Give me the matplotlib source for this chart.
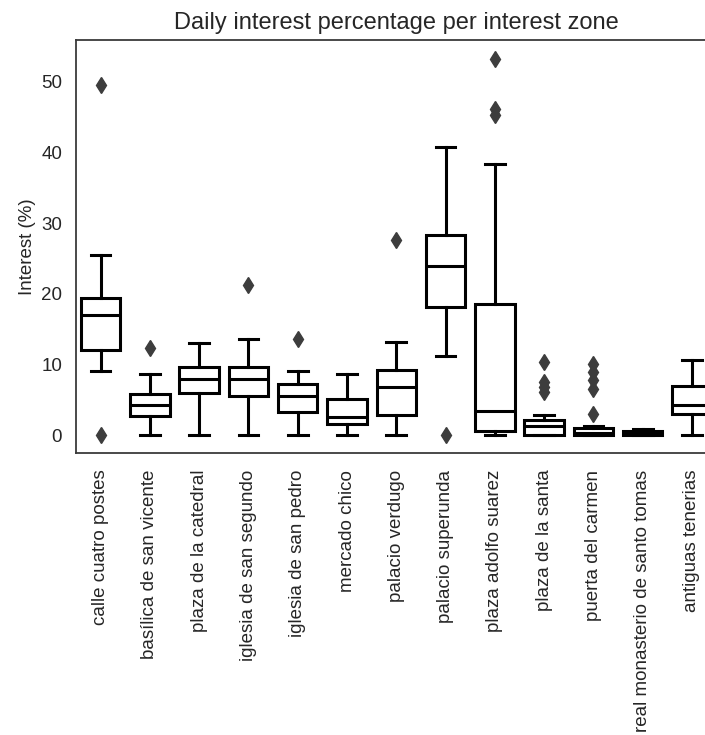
import matplotlib
matplotlib.use("Agg")
import matplotlib.pyplot as plt

plt.rcParams["font.family"] = ["Liberation Sans", "DejaVu Sans"]

zones = [
    "calle cuatro postes",
    "basílica de san vicente",
    "plaza de la catedral",
    "iglesia de san segundo",
    "iglesia de san pedro",
    "mercado chico",
    "palacio verdugo",
    "palacio superunda",
    "plaza adolfo suarez",
    "plaza de la santa",
    "puerta del carmen",
    "real monasterio de santo tomas",
    "antiguas tenerias",
]

# box statistics per zone (interest %)
whislo = [9.1, 0.0, 0.0, 0.0, 0.0, 0.0, 0.0, 11.25, 0.0, 0.0, 0.0, 0.0, 0.0]
q1 = [12.1, 2.75, 5.95, 5.5, 3.3, 1.6, 2.9, 18.2, 0.6, 0.1, 0.0, 0.0, 2.95]
med = [17.0, 4.35, 8.0, 8.0, 5.6, 2.65, 6.9, 24.0, 3.5, 1.3, 0.35, 0.3, 4.35]
q3 = [19.4, 5.85, 9.7, 9.7, 7.2, 5.15, 9.3, 28.3, 18.5, 2.1, 1.1, 0.6, 7.0]
whishi = [25.5, 8.6, 13.0, 13.6, 9.15, 8.6, 13.2, 40.8, 38.4, 2.8, 1.25, 0.85, 10.7]
outliers = [
    [49.6, 0.0],
    [12.4],
    [],
    [21.2],
    [13.6],
    [],
    [27.6],
    [0.0],
    [53.2, 46.1, 45.3],
    [10.4, 7.5, 6.8, 6.1],
    [10.1, 8.9, 7.8, 6.6, 3.0],
    [],
    [],
]

stats = []
for i, name in enumerate(zones):
    stats.append({
        "label": name,
        "whislo": whislo[i],
        "q1": q1[i],
        "med": med[i],
        "q3": q3[i],
        "whishi": whishi[i],
        "fliers": outliers[i],
    })

fig = plt.figure(figsize=(7.05, 7.35), dpi=100)
ax = fig.add_axes([0.1078, 0.3837, 0.9087, 0.5619])

lw = 2.2
ax.bxp(
    stats,
    positions=range(len(zones)),
    widths=0.8,
    patch_artist=True,
    boxprops=dict(facecolor="white", edgecolor="black", linewidth=lw),
    medianprops=dict(color="black", linewidth=lw),
    whiskerprops=dict(color="black", linewidth=lw),
    capprops=dict(color="black", linewidth=lw),
    flierprops=dict(marker="d", markerfacecolor="#3d3d3d", markeredgecolor="#3d3d3d",
                    markersize=8, linestyle="none"),
)

ax.set_xlim(-0.5, len(zones) - 0.5)
ax.set_ylim(-2.5, 55.9)
ax.set_yticks([0, 10, 20, 30, 40, 50])
ax.set_xticks(range(len(zones)))
ax.set_xticklabels(zones, rotation=90)

for side in ["left", "bottom", "top"]:
    ax.spines[side].set_color("#3a3a3a")
    ax.spines[side].set_linewidth(1.3)
ax.spines["right"].set_visible(False)

ax.tick_params(axis="both", length=0, labelsize=13.5, labelcolor="#262626")
ax.tick_params(axis="x", pad=12)
ax.tick_params(axis="y", pad=10)

ax.set_ylabel("Interest (%)", fontsize=13.5, color="#262626", labelpad=4)
ax.set_title("Daily interest percentage per interest zone", fontsize=17,
             color="#262626", pad=8)

fig.savefig("out.png", dpi=100)
